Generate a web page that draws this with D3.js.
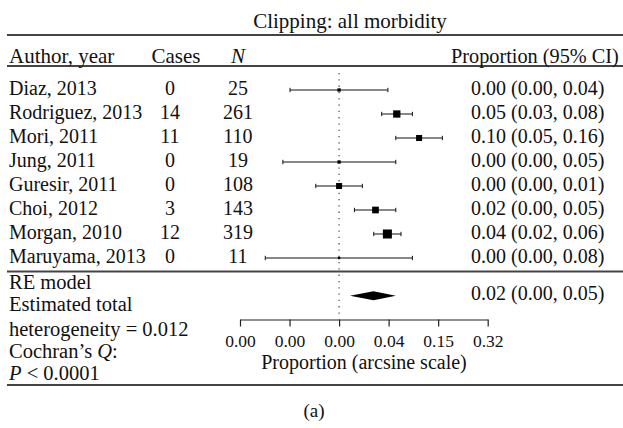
<!DOCTYPE html>
<html>
<head>
<meta charset="utf-8">
<script src="https://cdn.jsdelivr.net/npm/d3@7"></script>
<style>
    body { margin: 0; background: #fff; }
    svg text { font-family: "Liberation Serif", "DejaVu Serif", serif; fill: #111; }
</style>
</head>
<body>
<div id="canvas"></div>
<script>
/* Studies */
var authors = ['Diaz, 2013', 'Rodriguez, 2013', 'Mori, 2011', 'Jung, 2011',
               'Guresir, 2011', 'Choi, 2012', 'Morgan, 2010', 'Maruyama, 2013'];
var cases = [0, 14, 11, 0, 0, 3, 12, 0];
var totals = [25, 261, 110, 19, 108, 143, 319, 11];

/* Estimates and 95% CI on the arcsine scale */
var estimate = [0, 0.233, 0.323, 0, 0, 0.147, 0.195, 0];
var lower = [-0.198, 0.172, 0.229, -0.227, -0.094, 0.062, 0.140, -0.298];
var upper = [0.197, 0.296, 0.417, 0.229, 0.094, 0.229, 0.250, 0.296];
var weights = [4, 19, 13, 4, 13, 16, 29, 2];

/* Proportion (95% CI) column */
var ciLabels = ['0.00 (0.00, 0.04)', '0.05 (0.03, 0.08)', '0.10 (0.05, 0.16)',
                '0.00 (0.00, 0.05)', '0.00 (0.00, 0.01)', '0.02 (0.00, 0.05)',
                '0.04 (0.02, 0.06)', '0.00 (0.00, 0.08)'];

/* RE model summary */
var summary = {est: 0.139, lo: 0.044, hi: 0.229, label: '0.02 (0.00, 0.05)'};

/* Axis */
var tickValues = [-0.4, -0.2, 0, 0.2, 0.4, 0.6];
var tickLabels = ['0.00', '0.00', '0.00', '0.04', '0.15', '0.32'];

var width = 623, height = 428;

var svg = d3.select('#canvas').append('svg')
    .attr('width', width)
    .attr('height', height)
    .attr('font-family', '"Liberation Serif", "DejaVu Serif", serif');

var x = d3.scaleLinear().domain([-0.4, 0.6]).range([240, 487.7]);
var y = d3.scalePoint().domain(authors).range([90, 258]);
var box = d3.scaleSqrt().domain([0, d3.max(weights)]).range([0, 9]);

function rule(yy)
{
    svg.append('line')
       .attr('x1', 7).attr('x2', width)
       .attr('y1', yy).attr('y2', yy)
       .attr('stroke', '#444')
       .attr('stroke-width', 2);
}

rule(35);
rule(66);
rule(271.5);
rule(385);

/* Title and header */
svg.append('text')
   .attr('x', 350).attr('y', 28)
   .attr('text-anchor', 'middle')
   .style('font-size', '21px')
   .text('Clipping: all morbidity');

var header = svg.append('g').style('font-size', '21px');
header.append('text').attr('x', 9).attr('y', 63).text('Author, year');
header.append('text').attr('x', 176).attr('y', 63).attr('text-anchor', 'middle').text('Cases');
header.append('text').attr('x', 238).attr('y', 63).attr('text-anchor', 'middle')
      .style('font-style', 'italic').text('N');
header.append('text').attr('x', 451).attr('y', 63)
      .style('font-size', '20.3px').text('Proportion (95% CI)');

/* Zero reference line */
svg.append('line')
   .attr('x1', x(0)).attr('x2', x(0))
   .attr('y1', 73).attr('y2', 314)
   .attr('stroke', '#555')
   .attr('stroke-width', 1.3)
   .attr('stroke-dasharray', '1.3,5');

/* Study rows */
var rows = svg.selectAll('.row')
    .data(authors)
    .enter().append('g')
    .attr('class', 'row')
    .attr('transform', function(d) { return 'translate(0,' + y(d) + ')'; })
    .style('font-size', '20px');

rows.append('text').attr('x', 9).attr('dy', 5).text(function(d) { return d; });
rows.append('text').attr('x', 170).attr('dy', 5).attr('text-anchor', 'middle')
    .text(function(d, i) { return cases[i]; });
rows.append('text').attr('x', 238).attr('dy', 5).attr('text-anchor', 'middle')
    .text(function(d, i) { return totals[i]; });
rows.append('text').attr('x', 471).attr('dy', 5)
    .text(function(d, i) { return ciLabels[i]; });

rows.append('line')
    .attr('x1', function(d, i) { return x(lower[i]); })
    .attr('x2', function(d, i) { return x(upper[i]); })
    .attr('stroke', '#111');

[lower, upper].forEach(function(arr)
{
    rows.append('line')
        .attr('x1', function(d, i) { return x(arr[i]); })
        .attr('x2', function(d, i) { return x(arr[i]); })
        .attr('y1', -2.2).attr('y2', 2.2)
        .attr('stroke', '#111');
});

rows.append('rect')
    .attr('x', function(d, i) { return x(estimate[i]) - box(weights[i]) / 2; })
    .attr('y', function(d, i) { return -box(weights[i]) / 2; })
    .attr('width', function(d, i) { return box(weights[i]); })
    .attr('height', function(d, i) { return box(weights[i]); })
    .attr('fill', '#000');

/* Summary diamond */
var sy = 295.7;
svg.append('path')
   .attr('d', 'M' + x(summary.lo) + ',' + sy +
              'L' + x(summary.est) + ',' + (sy - 4.5) +
              'L' + x(summary.hi) + ',' + sy +
              'L' + x(summary.est) + ',' + (sy + 4.5) + 'Z')
   .attr('fill', '#000');

svg.append('text')
   .attr('x', 471).attr('y', 300)
   .style('font-size', '20px')
   .text(summary.label);

/* Footer notes */
var notes = svg.append('g').style('font-size', '20.5px');
notes.append('text').attr('x', 9).attr('y', 289).text('RE model');
notes.append('text').attr('x', 9).attr('y', 311).text('Estimated total');
notes.append('text').attr('x', 9).attr('y', 336).text('heterogeneity = 0.012');
var q = notes.append('text').attr('x', 9).attr('y', 358);
q.append('tspan').text('Cochran\u2019s ');
q.append('tspan').style('font-style', 'italic').text('Q');
q.append('tspan').text(':');
var p = notes.append('text').attr('x', 9).attr('y', 380);
p.append('tspan').style('font-style', 'italic').text('P');
p.append('tspan').text(' < 0.0001');

/* Axis */
var axis = d3.axisBottom(x)
    .tickValues(tickValues)
    .tickFormat(function(d, i) { return tickLabels[i]; })
    .tickSize(7)
    .tickSizeOuter(0)
    .tickPadding(8);

var ax = svg.append('g')
    .attr('transform', 'translate(0,319.5)')
    .call(axis);

ax.attr('font-family', null).attr('font-size', null);
ax.select('.domain').attr('stroke', '#222').attr('stroke-width', 1.2);
ax.selectAll('.tick line').attr('stroke', '#222').attr('stroke-width', 1.2);
ax.selectAll('.tick text')
  .attr('fill', '#111')
  .style('font-size', '17.5px');

svg.append('text')
   .attr('x', 364).attr('y', 369)
   .attr('text-anchor', 'middle')
   .style('font-size', '20px')
   .text('Proportion (arcsine scale)');

svg.append('text')
   .attr('x', 314).attr('y', 417)
   .attr('text-anchor', 'middle')
   .style('font-size', '19px')
   .text('(a)');
</script>
</body>
</html>
